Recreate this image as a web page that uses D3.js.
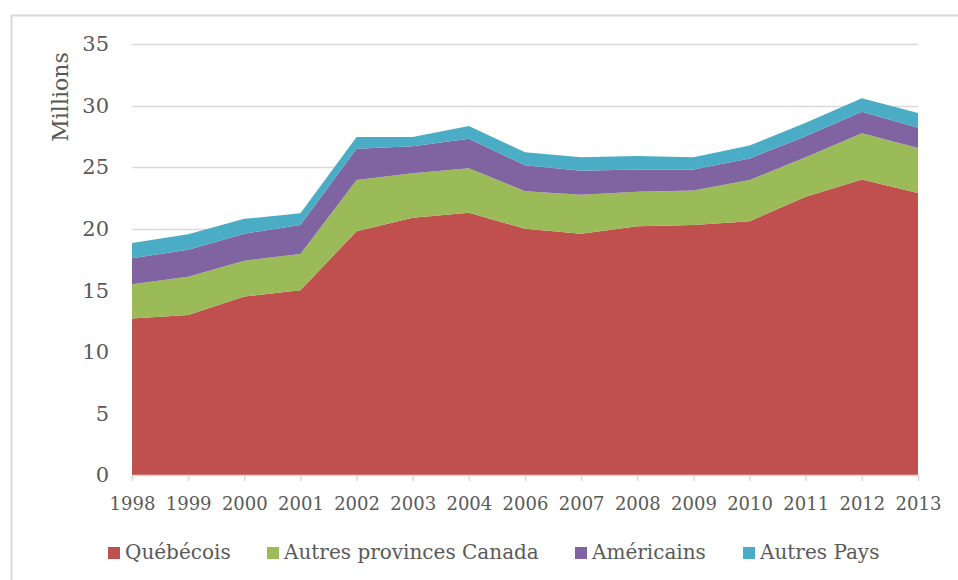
<!DOCTYPE html>
<html>
<head>
	<meta charset="utf-8">
	<title>Visiteurs</title>
	<script src="https://d3js.org/d3.v7.min.js"></script>
	<style>
		body { margin: 0; background: #fff; }
		text { font-family: 'DejaVu Serif', serif; fill: #595959; }
	</style>
</head>
<body>
	<div class="chart"></div>

	<script type="text/javascript">

		// années (2005 absente)
		const years = ['1998', '1999', '2000', '2001', '2002', '2003', '2004', '2006', '2007', '2008', '2009', '2010', '2011', '2012', '2013']

		// séries (millions), valeurs par couche
		const quebecois = [12.7, 13.0, 14.5, 15.0, 19.8, 20.9, 21.3, 20.0, 19.6, 20.2, 20.3, 20.6, 22.6, 24.0, 22.9]
		const autresProvinces = [2.8, 3.1, 2.9, 2.95, 4.15, 3.6, 3.6, 3.05, 3.15, 2.8, 2.8, 3.35, 3.2, 3.75, 3.65]
		const americains = [2.1, 2.2, 2.2, 2.35, 2.55, 2.2, 2.4, 2.1, 1.95, 1.8, 1.7, 1.75, 1.7, 1.75, 1.65]
		const autresPays = [1.25, 1.25, 1.2, 0.95, 0.95, 0.75, 1.05, 1.05, 1.1, 1.1, 1.0, 1.05, 1.1, 1.1, 1.2]

		const seriesNames = ['Québécois', 'Autres provinces Canada', 'Américains', 'Autres Pays']
		const colors = ['#c0504d', '#9bbb59', '#8064a2', '#4bacc6']
		const yTicks = [0, 5, 10, 15, 20, 25, 30, 35]

		const width = 958
		const height = 580

		const svg = d3
			.select('.chart')
			.append('svg')
			.attr('width', width)
			.attr('height', height)

		// cadre du graphique
		svg.append('rect')
			.attr('x', 11.5)
			.attr('y', 15.5)
			.attr('width', 1000)
			.attr('height', 1000)
			.attr('fill', 'none')
			.attr('stroke', '#d9d9d9')
			.attr('stroke-width', 2)

		const table = years.map((y, i) => ({
			year: y,
			s0: quebecois[i],
			s1: autresProvinces[i],
			s2: americains[i],
			s3: autresPays[i]
		}))

		const x = d3.scalePoint().domain(years).range([132, 918])
		const y = d3.scaleLinear().domain([0, 35]).range([475, 44])

		// grille
		svg.append('g')
			.selectAll('line')
			.data(yTicks)
			.join('line')
			.attr('x1', 132)
			.attr('x2', 918)
			.attr('y1', (d) => Math.round(y(d)) + 0.5)
			.attr('y2', (d) => Math.round(y(d)) + 0.5)
			.attr('stroke', '#d9d9d9')
			.attr('stroke-width', 1.5)

		// aires empilées
		const stack = d3.stack().keys(['s0', 's1', 's2', 's3'])(table)
		const area = d3.area()
			.x((d) => x(d.data.year))
			.y0((d) => y(d[0]))
			.y1((d) => y(d[1]))

		svg.append('g')
			.selectAll('path')
			.data(stack)
			.join('path')
			.attr('fill', (d, i) => colors[i])
			.attr('d', area)

		// axe X
		const xAxis = svg.append('g')
			.attr('transform', 'translate(0, 475)')
			.call(d3.axisBottom(x).tickSize(6).tickPadding(16))
		xAxis.select('.domain').attr('stroke', '#d9d9d9').attr('stroke-width', 1.5)
		xAxis.selectAll('.tick line').attr('stroke', '#d9d9d9').attr('stroke-width', 1.5)
		xAxis.selectAll('text')
			.attr('fill', '#595959')
			.style('font-family', 'DejaVu Serif')
			.style('font-size', '18px')

		// axe Y
		const yAxis = svg.append('g')
			.attr('transform', 'translate(109, 0)')
			.call(d3.axisLeft(y).tickValues(yTicks).tickSize(0).tickPadding(0))
		yAxis.select('.domain').remove()
		yAxis.selectAll('text')
			.attr('fill', '#595959')
			.style('font-family', 'DejaVu Serif')
			.style('font-size', '21px')

		// titre Y
		svg.append('text')
			.attr('transform', 'translate(68, 97) rotate(-90)')
			.attr('text-anchor', 'middle')
			.style('font-size', '22px')
			.text('Millions')

		// légende
		const legendX = [108, 267, 575, 743]
		const legend = svg.append('g')
			.selectAll('g')
			.data(seriesNames)
			.join('g')
			.attr('transform', (d, i) => `translate(${legendX[i]}, 547)`)

		legend.append('rect')
			.attr('width', 12)
			.attr('height', 12)
			.attr('fill', (d, i) => colors[i])

		legend.append('text')
			.attr('x', 17)
			.attr('y', 12)
			.style('font-size', '20px')
			.text((d) => d)

	</script>
</body>
</html>
